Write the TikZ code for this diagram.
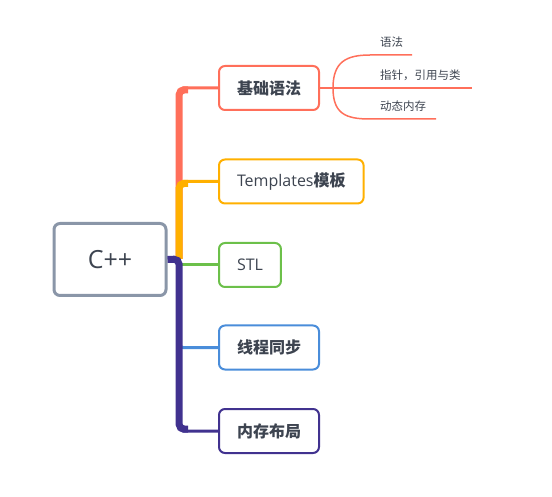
\documentclass[tikz,border=0pt]{standalone}
\usepackage{fontspec}
\setmainfont{Open Sans}
\newfontfamily\cjk{Noto Sans CJK SC}
\usetikzlibrary{calc, positioning}
\definecolor{txtgrey}{HTML}{3D4450}
\definecolor{rootgrey}{HTML}{8A96A8}
\definecolor{brRed}{HTML}{FF6F5A}
\definecolor{brOrange}{HTML}{FFB000}
\definecolor{brGreen}{HTML}{6CC04A}
\definecolor{brBlue}{HTML}{4A8DDA}
\definecolor{brPurple}{HTML}{41328F}

\begin{document}
\begin{tikzpicture}[x=1pt,y=-1pt,
    rootbox/.style={draw=rootgrey, line width=3pt, rounded corners=6pt, fill=white, text=txtgrey,
      minimum width=112pt, minimum height=72pt, font=\fontsize{25pt}{28pt}\selectfont},
    topic/.style={draw, line width=2pt, rounded corners=6pt, fill=white, text=txtgrey, anchor=west,
      inner xsep=18pt, minimum height=44pt, font=\fontsize{16pt}{18pt}\selectfont},
    leaf/.style={text=txtgrey, inner sep=2pt, font=\fontsize{11.5pt}{13pt}\selectfont\cjk},
    trunk/.style={line width=7pt, rounded corners=5pt},
    twig/.style={line width=3pt, rounded corners=4pt},
    sub/.style={line width=1.5pt, brRed}]
  \useasboundingbox (0,0) rectangle (552,497);

  \node[rootbox] (root) at (110,259.5) {C++};
  \coordinate (j) at (179,259);

  \node[topic, draw=brRed] (syn) at (218,88) {\cjk\bfseries 基础语法};
  \node[topic, draw=brOrange] (tpl) at (218,181.5) {Templates{\cjk\bfseries 模板}};
  \node[topic, draw=brGreen] (stl) at (218,265) {STL};
  \node[topic, draw=brBlue] (thr) at (218,347.5) {\cjk\bfseries 线程同步};
  \node[topic, draw=brPurple] (mem) at (218,431) {\cjk\bfseries 内存布局};

  % branches, drawn from top to bottom
  \draw[trunk, brRed] (j) |- ($(syn.west)+(-30,2)$);
  \draw[twig, brRed] (j) |- (syn.west);
  \draw[trunk, brOrange] (j) |- ($(tpl.west)+(-30,2)$);
  \draw[twig, brOrange] (j) |- (tpl.west);
  \draw[twig, brGreen] (stl.west -| j) -- (stl.west);
  \draw[twig, brBlue] (j) |- (thr.west);
  \draw[twig, brPurple] (j) |- (mem.west);
  \draw[trunk, brPurple] (root.east) -- (j) [rounded corners=5pt] |- ($(mem.west)+(-30,-2)$);

  % sub topics of syn
  \coordinate (fork) at ($(syn.east)+(13,0)$);
  \coordinate (t1) at (370,55);
  \coordinate (u1) at (412,55);
  \coordinate (t2) at (370,88);
  \coordinate (u2) at (472,88);
  \coordinate (t3) at (370,119);
  \coordinate (u3) at (436,119);
  \draw[sub] (syn.east) -- (fork) -- (u2);
  \draw[sub] (fork) .. controls ($(fork)+(0,-26)$) and ($(t1)+(-24,0)$) .. (t1) -- (u1);
  \draw[sub] (fork) .. controls ($(fork)+(0,26)$) and ($(t3)+(-24,0)$) .. (t3) -- (u3);
  \node[leaf, above right=5pt and 8pt of t1] (l1) {语法};
  \node[leaf, above right=5pt and 8pt of t2] (l2) {指针，引用与类};
  \node[leaf, above right=5pt and 8pt of t3] (l3) {动态内存};
\end{tikzpicture}
\end{document}
